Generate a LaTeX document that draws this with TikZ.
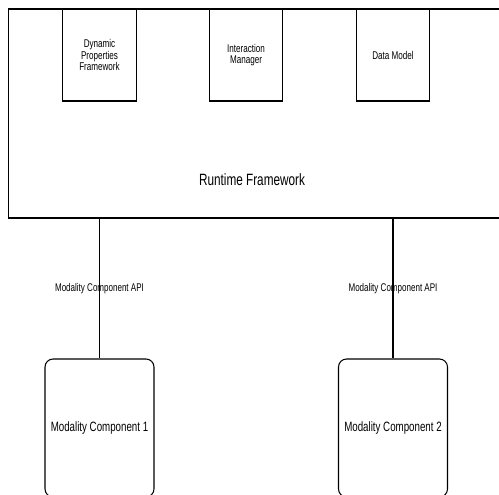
\documentclass[tikz,border=0pt]{standalone}
\usepackage{fontspec}
\setmainfont{Liberation Sans}[FakeStretch=0.72]
\usepackage{tikz}
\usetikzlibrary{positioning}

\begin{document}
\begin{tikzpicture}
[x=0.02cm, y=-0.02cm, line width=0.6pt,
framenode/.style={rectangle, draw, minimum width=10.24cm, minimum height=4.18cm, inner sep=0pt},
partnode/.style={rectangle, draw, minimum width=1.47cm, minimum height=1.84cm, inner sep=0pt, align=center, font=\fontsize{6.4}{6.6}\selectfont},
modnode/.style={rectangle, rounded corners=0.16cm, draw, minimum width=2.18cm, minimum height=2.76cm, inner sep=0pt, font=\fontsize{7.7}{9}\selectfont},
apilabel/.style={font=\fontsize{6.35}{7}\selectfont},
]
\useasboundingbox (0,0) rectangle (499,494);
\clip (0,0) rectangle (499,494);

\node[framenode] (rf) at (264,113.5) {};
\node[font=\fontsize{9.3}{11}\selectfont] (rft) at (252,180) {Runtime Framework};

\node[partnode] (dpf) at (99.5,55) {Dynamic\\Properties\\Framework};
\node[partnode] (im) at (246,55) {Interaction\\Manager};
\node[partnode] (dm) at (393,55) {Data Model};

\node[modnode] (mc1) at (99.5,428) {Modality Component 1};
\node[modnode] (mc2) at (393,428) {Modality Component 2};

\draw (mc1.north |- rf.south) -- (mc1.north) node[midway, apilabel] {Modality Component API};
\draw (mc2.north |- rf.south) -- (mc2.north) node[midway, apilabel] {Modality Component API};
\end{tikzpicture}
\end{document}
